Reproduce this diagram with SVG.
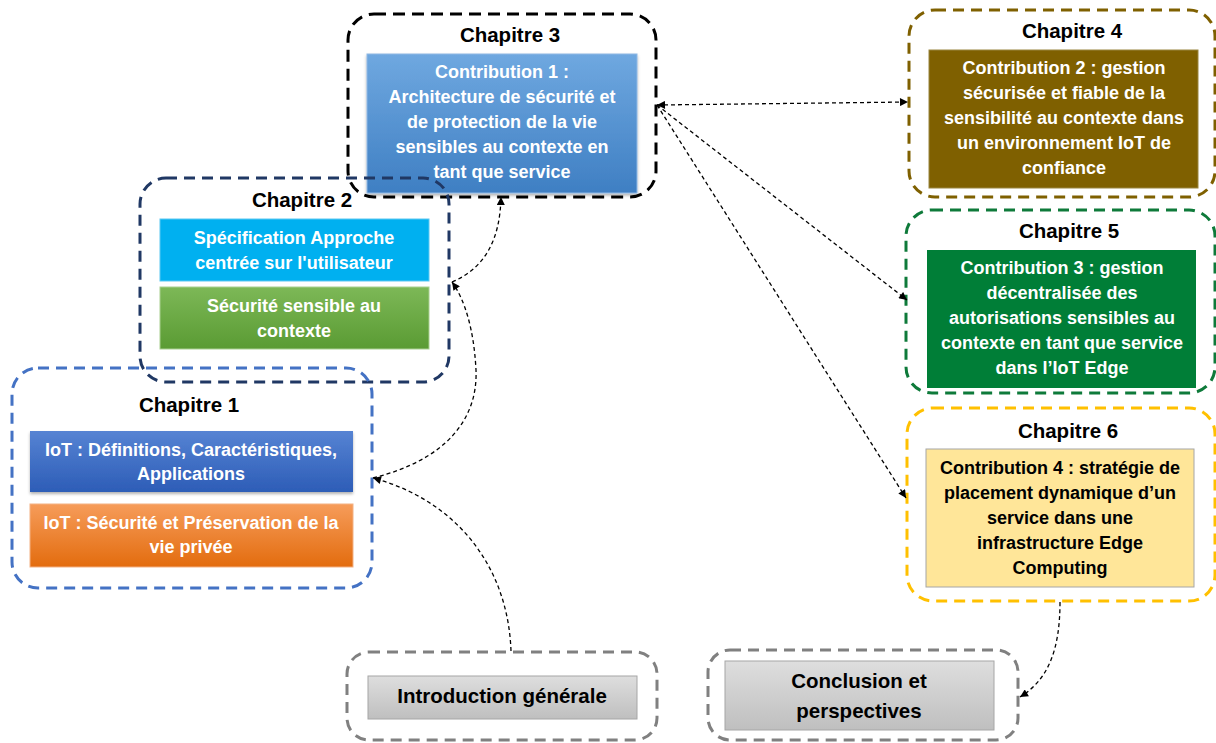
<svg xmlns="http://www.w3.org/2000/svg" width="1216" height="743" viewBox="0 0 1216 743">
<style>
.frame{fill:none;stroke-width:3;stroke-dasharray:11 7;}
.title{font-family:"Liberation Sans",Arial,sans-serif;font-weight:bold;font-size:20.5px;fill:#000;text-anchor:middle;}
.body{font-family:"Liberation Sans",Arial,sans-serif;font-weight:bold;font-size:18px;fill:#fff;text-anchor:middle;}
.dark{fill:#000;}
.big{font-size:20.5px;}
.conn{fill:none;stroke:#000;stroke-width:1.3;stroke-dasharray:4 3;}
</style>
<defs>
<linearGradient id="gBlue3" x1="0" y1="0" x2="0" y2="1"><stop offset="0" stop-color="#6fa8e0"/><stop offset="1" stop-color="#3f7fc3"/></linearGradient>
<linearGradient id="gGreen" x1="0" y1="0" x2="0" y2="1"><stop offset="0" stop-color="#7db857"/><stop offset="1" stop-color="#5a9b33"/></linearGradient>
<linearGradient id="gBlue1" x1="0" y1="0" x2="0" y2="1"><stop offset="0" stop-color="#5683d3"/><stop offset="1" stop-color="#2d5db7"/></linearGradient>
<linearGradient id="gOrange" x1="0" y1="0" x2="0" y2="1"><stop offset="0" stop-color="#f69c5a"/><stop offset="1" stop-color="#e36c0e"/></linearGradient>
<linearGradient id="gGray" x1="0" y1="0" x2="0" y2="1"><stop offset="0" stop-color="#dedede"/><stop offset="1" stop-color="#bfbfbf"/></linearGradient>
<filter id="sh" x="-5%" y="-10%" width="110%" height="125%"><feDropShadow dx="0" dy="2" stdDeviation="1.5" flood-color="#000" flood-opacity="0.3"/></filter>
<marker id="arr" viewBox="0 0 10 10" refX="10" refY="5" markerWidth="9" markerHeight="8" markerUnits="userSpaceOnUse" orient="auto-start-reverse"><path d="M0,0 L10,5 L0,10 z" fill="#000"/></marker>
</defs>

<g id="chapitre3">
<rect x="367" y="54" width="270" height="139" fill="url(#gBlue3)" stroke="#8fb8e4" stroke-width="1" filter="url(#sh)"/>
<rect class="frame" x="348" y="14" width="308" height="183" rx="26" stroke="#000" stroke-width="3.5" style="stroke-dasharray:12 7"/>
<text class="title" x="510" y="42">Chapitre 3</text>
<text class="body" x="502" y="78">Contribution 1 :</text>
<text class="body" x="502" y="103">Architecture de sécurité et</text>
<text class="body" x="502" y="128">de protection de la vie</text>
<text class="body" x="502" y="153">sensibles au contexte en</text>
<text class="body" x="502" y="178">tant que service</text>
</g>

<g id="chapitre2">
<rect class="frame" x="140" y="178" width="309" height="204" rx="26" stroke="#203864"/>
<rect x="160" y="219" width="269" height="62" fill="#00b0f0" stroke="#5bc8f2" stroke-width="1"/>
<rect x="160" y="287" width="269" height="62" fill="url(#gGreen)" stroke="#a9cf90" stroke-width="1"/>
<text class="title" x="302" y="207">Chapitre 2</text>
<text class="body" x="294" y="244">Spécification Approche</text>
<text class="body" x="294" y="269">centrée sur l'utilisateur</text>
<text class="body" x="294" y="312">Sécurité sensible au</text>
<text class="body" x="294" y="337">contexte</text>
</g>

<g id="chapitre1">
<rect class="frame" x="12" y="368" width="360" height="220" rx="26" stroke="#4472c4"/>
<rect x="30" y="431" width="323" height="61" fill="url(#gBlue1)" filter="url(#sh)"/>
<rect x="30" y="504" width="323" height="63" fill="url(#gOrange)" stroke="#f3b184" stroke-width="1"/>
<text class="title" x="189" y="412">Chapitre 1</text>
<text class="body" x="191" y="456">IoT : Définitions, Caractéristiques,</text>
<text class="body" x="191" y="480">Applications</text>
<text class="body" x="191" y="529">IoT : Sécurité et Préservation de la</text>
<text class="body" x="191" y="553">vie privée</text>
</g>

<g id="chapitre4">
<rect class="frame" x="909" y="10" width="306" height="187" rx="26" stroke="#7f6000"/>
<rect x="929" y="50" width="269" height="138" fill="#7f6000" stroke="#9a8640" stroke-width="1"/>
<text class="title" x="1072" y="38">Chapitre 4</text>
<text class="body" x="1064" y="74">Contribution 2 : gestion</text>
<text class="body" x="1064" y="99">sécurisée et fiable de la</text>
<text class="body" x="1064" y="124">sensibilité au contexte dans</text>
<text class="body" x="1064" y="149">un environnement IoT de</text>
<text class="body" x="1064" y="174">confiance</text>
</g>

<g id="chapitre5">
<rect class="frame" x="906" y="210" width="309" height="183" rx="26" stroke="#0e7a3a"/>
<rect x="927" y="250" width="269" height="138" fill="#007e37"/>
<text class="title" x="1069" y="238">Chapitre 5</text>
<text class="body" x="1062" y="274">Contribution 3 : gestion</text>
<text class="body" x="1062" y="299">décentralisée des</text>
<text class="body" x="1062" y="324">autorisations sensibles au</text>
<text class="body" x="1062" y="349">contexte en tant que service</text>
<text class="body" x="1062" y="374">dans l’IoT Edge</text>
</g>

<g id="chapitre6">
<rect class="frame" x="907" y="408" width="308" height="193" rx="26" stroke="#ffc000"/>
<rect x="926" y="449" width="268" height="138" fill="#ffe699" stroke="#a6a6a6" stroke-width="1"/>
<text class="title" x="1068" y="438">Chapitre 6</text>
<text class="body dark" x="1060" y="474">Contribution 4 : stratégie de</text>
<text class="body dark" x="1060" y="499">placement dynamique d’un</text>
<text class="body dark" x="1060" y="524">service dans une</text>
<text class="body dark" x="1060" y="549">infrastructure Edge</text>
<text class="body dark" x="1060" y="574">Computing</text>
</g>

<g id="introduction">
<rect class="frame" x="347" y="652" width="310" height="88" rx="22" stroke="#808080"/>
<rect x="368" y="676" width="269" height="43" fill="url(#gGray)" stroke="#a6a6a6" stroke-width="1"/>
<text class="body dark big" x="502" y="703">Introduction générale</text>
</g>

<g id="conclusion">
<rect class="frame" x="708" y="650" width="310" height="90" rx="22" stroke="#808080"/>
<rect x="725" y="661" width="269" height="69" fill="url(#gGray)" stroke="#a6a6a6" stroke-width="1"/>
<text class="body dark big" x="859" y="688">Conclusion et</text>
<text class="body dark big" x="859" y="718">perspectives</text>
</g>

<g id="connectors">
<path class="conn" d="M511,651 C508,565 455,500 373,478" marker-end="url(#arr)"/>
<path class="conn" d="M373,478 C445,460 478,420 476,370 C474,330 465,300 452,282" marker-end="url(#arr)"/>
<path class="conn" d="M452,282 C485,268 500,240 501,197" marker-end="url(#arr)"/>
<path class="conn" d="M657,105 L908,102" marker-start="url(#arr)" marker-end="url(#arr)"/>
<path class="conn" d="M657,105 L907,300" marker-end="url(#arr)"/>
<path class="conn" d="M657,105 L906,498" marker-end="url(#arr)"/>
<path class="conn" d="M1060,602 C1060,650 1048,680 1020,697" marker-end="url(#arr)"/>
</g>
</svg>
